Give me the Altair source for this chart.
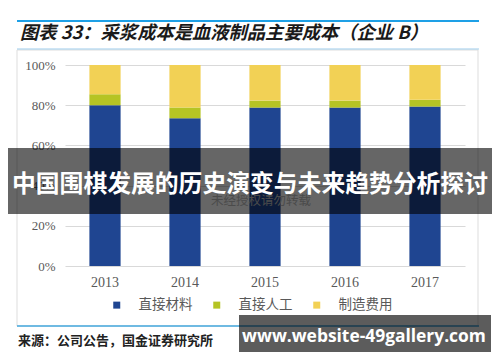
import altair as alt
import pandas as pd

# ---- data ----
years = ["2013", "2014", "2015", "2016", "2017"]
material = [80.0, 73.5, 78.8, 78.8, 79.3]   # 直接材料
labor = [5.5, 5.3, 3.5, 3.5, 3.4]           # 直接人工
overhead = [14.5, 21.2, 17.7, 17.7, 17.3]   # 制造费用
series = ["直接材料", "直接人工", "制造费用"]
colors = ["#1F4591", "#B5C424", "#F2D155"]
y_ticks = [0, 0.2, 0.4, 0.6, 0.8, 1.0]

title_text = "图表 33：采浆成本是血液制品主要成本（企业 B）"
source_text = "来源：公司公告，国金证券研究所"
banner_text = "中国围棋发展的历史演变与未来趋势分析探讨"
faint_text = "未经授权请勿转载"
wm_text = "www.website-49gallery.com"

rows = []
for i, yr in enumerate(years):
    for k, vals in enumerate([material, labor, overhead]):
        rows.append({"year": yr, "series": series[k], "value": vals[i], "order": k})
df = pd.DataFrame(rows)

CJK = "Noto Sans CJK SC"
NUM = "Liberation Serif"
one = pd.DataFrame({"a": [0]})

bars = alt.Chart(df).mark_bar().encode(
    x=alt.X("year:N", sort=years,
            scale=alt.Scale(paddingInner=0.61, paddingOuter=0.305),
            axis=alt.Axis(title=None, labelAngle=0, ticks=False, domain=False, grid=False,
                          labelFont=NUM, labelFontSize=14, labelColor="#595959",
                          labelPadding=9)),
    y=alt.Y("value:Q", stack="normalize", scale=alt.Scale(domain=[0, 1]),
            axis=alt.Axis(title=None, format=".0%", values=y_ticks, ticks=False,
                          domain=False, gridColor="#D9D9D9", gridWidth=1,
                          labelFont=NUM, labelFontSize=13, labelColor="#595959",
                          labelPadding=10)),
    color=alt.Color("series:N", sort=series,
                    scale=alt.Scale(domain=series, range=colors),
                    legend=alt.Legend(orient="none", legendX=45, legendY=233,
                                      direction="horizontal", title=None,
                                      symbolType="square", symbolSize=49,
                                      symbolStrokeWidth=0, labelFont=CJK,
                                      labelFontSize=13.5, labelColor="#595959",
                                      labelOffset=15, columnPadding=17)),
    order=alt.Order("order:Q"),
)


def rule(x1, x2, y, color, w):
    return alt.Chart(one).mark_rule(color=color, strokeWidth=w).encode(
        x=alt.value(x1), x2=alt.value(x2), y=alt.value(y))


def box(x1, x2, y1, y2, **kw):
    return alt.Chart(one).mark_rect(**kw).encode(
        x=alt.value(x1), x2=alt.value(x2), y=alt.value(y1), y2=alt.value(y2))


def label(txt, x, y, **kw):
    return alt.Chart(one).mark_text(text=txt, **kw).encode(x=alt.value(x), y=alt.value(y))


frame = box(-48, 413, -15, 261, fillOpacity=0, stroke="#DDDDDD", strokeWidth=1)
top_line = rule(-48, 414, -44, "#1EA0E6", 2)
under_title = rule(-48, 414, -16, "#9CCBEA", 1)
bottom_line = rule(-48, 414, 261, "#45A8DE", 1.5)
title = label(title_text, -45, -31, font=CJK, fontSize=18.3, fontWeight="bold",
              fontStyle="italic", color="#1A1A1A", align="left", baseline="middle")
source = label(source_text, -47, 276, font=CJK, fontSize=13, fontWeight="bold",
               color="#222222", align="left", baseline="middle")
faint = label(faint_text, 196, 136, font=CJK, fontSize=12.5, color="#BBBBBB",
              align="center", baseline="middle")
band = box(-57, 427, 83, 149, color="#000000", opacity=0.6)
band_txt = label(banner_text, 185, 120, font=CJK, fontSize=23.8, fontWeight="bold",
                 color="#FFFFFF", align="center", baseline="middle")
wm_box = box(174, 426, 250, 287, color="#000000", opacity=0.64)
wm_txt = label(wm_text, 299, 272, font="Open Sans", fontSize=17.4, fontWeight="bold",
               color="#FFFFFF", align="center", baseline="middle")

chart = alt.layer(
    frame, top_line, under_title, bottom_line, title, source,
    bars, faint, band, band_txt, wm_box, wm_txt
).properties(
    width=400, height=201,
    autosize=alt.AutoSizeParams(type="none"),
    padding={"left": 57, "top": 57, "right": 27, "bottom": 88},
).configure_view(stroke=None)

chart.save("out.html", embed_options={"renderer": "svg", "actions": False})
